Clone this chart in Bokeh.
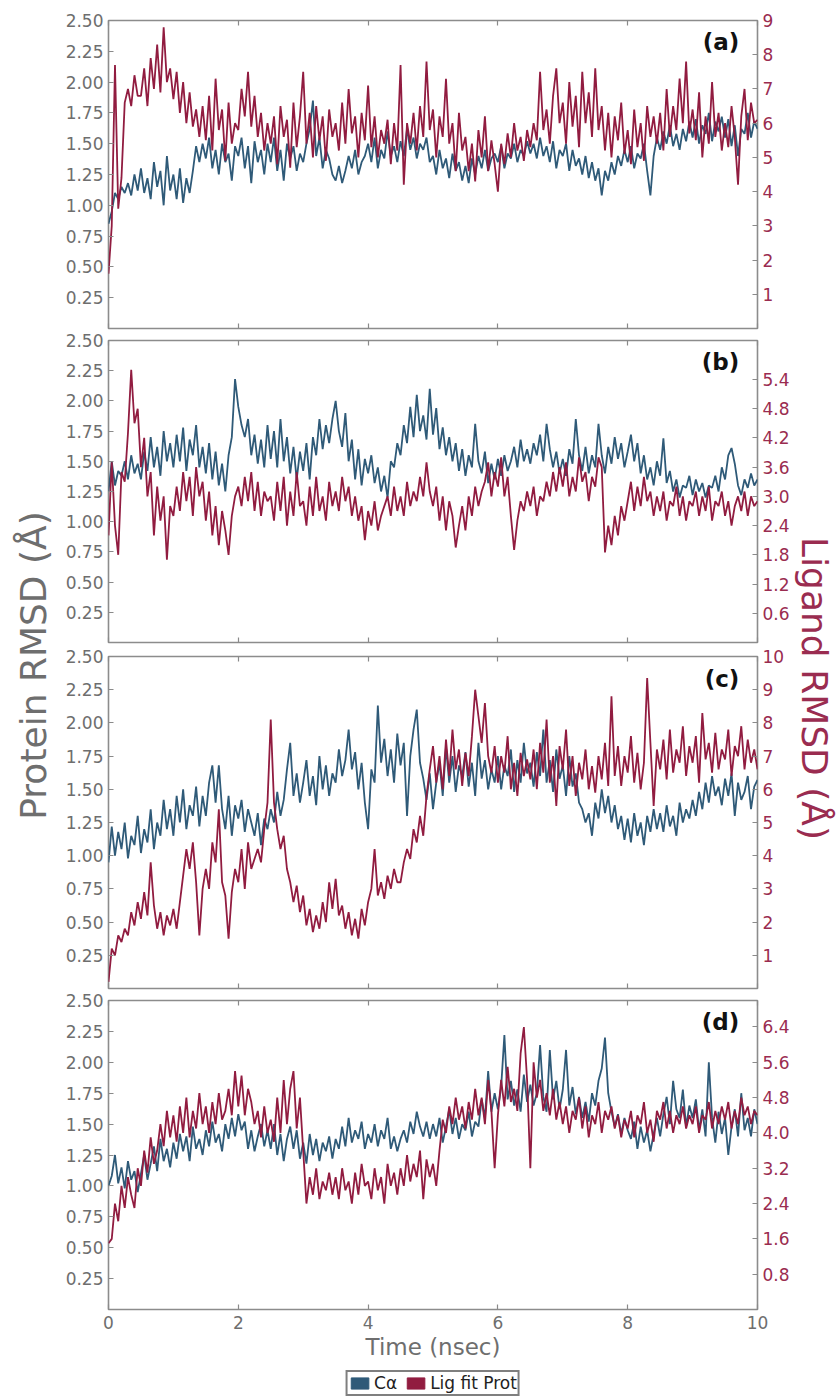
import numpy as np
from math import pi
from bokeh.plotting import figure
from bokeh.models import (Range1d, LinearAxis, FixedTicker, PrintfTickFormatter, Label,
                          Legend, LegendItem, ColumnDataSource)
from bokeh.layouts import row, column
from bokeh.embed import file_html
from bokeh.resources import INLINE

# ---------------- data ----------------
time_ns = np.linspace(0, 10, 201)
time_ticks = [0, 2, 4, 6, 8, 10]
prot_ticks = [0.25, 0.50, 0.75, 1.00, 1.25, 1.50, 1.75, 2.00, 2.25, 2.50]

# panel (a)
ca_a = [0.85, 0.95, 1.10, 1.05, 1.15, 1.10, 1.18, 1.08, 1.25, 1.12,
        1.30, 1.10, 1.22, 1.05, 1.35, 1.15, 1.28, 1.00, 1.40, 1.12,
        1.25, 1.05, 1.30, 1.02, 1.22, 1.10, 1.28, 1.48, 1.35, 1.50,
        1.38, 1.55, 1.30, 1.45, 1.25, 1.50, 1.35, 1.42, 1.20, 1.48,
        1.40, 1.55, 1.30, 1.48, 1.18, 1.52, 1.35, 1.45, 1.25, 1.50,
        1.35, 1.55, 1.28, 1.45, 1.20, 1.50, 1.38, 1.48, 1.28, 1.42,
        1.35, 1.50, 1.62, 1.85, 1.40, 1.55, 1.30, 1.45, 1.38, 1.25,
        1.20, 1.32, 1.18, 1.28, 1.40, 1.30, 1.45, 1.25, 1.35, 1.40,
        1.50, 1.35, 1.55, 1.30, 1.45, 1.38, 1.60, 1.40, 1.48, 1.35,
        1.52, 1.40, 1.62, 1.45, 1.55, 1.38, 1.50, 1.45, 1.55, 1.35,
        1.40, 1.25, 1.45, 1.30, 1.38, 1.22, 1.42, 1.28, 1.35, 1.20,
        1.32, 1.18, 1.38, 1.25, 1.40, 1.30, 1.45, 1.28, 1.38, 1.42,
        1.35, 1.48, 1.30, 1.42, 1.38, 1.50, 1.35, 1.45, 1.40, 1.52,
        1.42, 1.50, 1.38, 1.55, 1.40, 1.48, 1.35, 1.52, 1.30, 1.45,
        1.40, 1.50, 1.28, 1.45, 1.32, 1.38, 1.25, 1.40, 1.22, 1.35,
        1.20, 1.30, 1.08, 1.28, 1.20, 1.35, 1.25, 1.40, 1.32, 1.45,
        1.35, 1.48, 1.30, 1.42, 1.38, 1.50, 1.28, 1.08, 1.40, 1.55,
        1.45, 1.60, 1.50, 1.65, 1.48, 1.58, 1.45, 1.62, 1.52, 1.68,
        1.55, 1.70, 1.50, 1.65, 1.58, 1.75, 1.52, 1.68, 1.60, 1.72,
        1.55, 1.70, 1.48, 1.65, 1.40, 1.62, 1.58, 1.75, 1.55, 1.68,
        1.62]
lig_a = [1.6, 3.0, 7.7, 3.5, 4.4, 6.6, 7.0, 6.5, 7.4, 6.8,
         6.8, 7.6, 6.5, 7.9, 7.0, 8.3, 6.9, 8.8, 7.2, 7.6,
         6.7, 7.5, 6.3, 7.2, 6.0, 6.9, 5.9, 6.4, 5.6, 6.5,
         5.5, 6.8, 5.2, 7.3, 5.8, 6.4, 4.9, 6.6, 5.4, 6.0,
         5.8, 7.0, 6.2, 7.5, 5.9, 6.8, 5.6, 6.3, 5.2, 6.0,
         5.4, 6.2, 4.8, 6.5, 5.6, 6.1, 4.7, 6.6, 5.3, 6.2,
         7.5, 5.4, 6.3, 5.0, 6.5, 5.5, 6.2, 4.9, 6.4, 5.6,
         6.0, 5.2, 6.6, 5.4, 7.0, 5.7, 6.2, 5.0, 6.3, 5.5,
         7.1, 5.3, 6.2, 5.0, 5.8, 5.4, 6.1, 4.8, 6.0, 5.2,
         7.7, 4.2, 6.0, 5.4, 6.3, 5.2, 6.5, 5.6, 7.8, 5.8,
         6.4, 5.0, 6.2, 5.6, 7.3, 5.4, 6.0, 4.6, 6.3, 5.2,
         5.6, 4.6, 5.4, 4.3, 5.8, 5.0, 6.2, 4.6, 5.5, 4.8,
         4.0, 5.4, 4.8, 5.7, 5.0, 6.0, 5.2, 5.6, 4.9, 5.8,
         5.3, 6.0, 5.5, 7.5, 5.8, 6.4, 5.4, 6.8, 7.6, 6.0,
         6.6, 5.4, 7.2, 5.9, 6.8, 5.3, 7.5, 6.0, 6.9, 5.6,
         7.6, 5.8, 6.5, 5.2, 6.3, 5.0, 6.2, 5.5, 6.6, 5.1,
         5.8, 4.8, 6.4, 5.3, 6.0, 4.9, 6.5, 5.6, 6.2, 5.4,
         6.3, 5.2, 7.0, 5.6, 6.5, 5.8, 7.3, 6.0, 7.8, 5.7,
         6.4, 5.5, 6.9, 5.0, 6.2, 5.4, 7.2, 5.6, 6.3, 5.2,
         6.0, 5.3, 6.5, 5.6, 4.2, 6.2, 7.0, 5.5, 6.6, 6.0,
         6.1]
lig_ticks_a = [1, 2, 3, 4, 5, 6, 7, 8, 9]

# panel (b)
ca_b = [1.25, 1.50, 1.30, 1.42, 1.38, 1.50, 1.35, 1.55, 1.40, 1.48,
        1.35, 1.58, 1.42, 1.70, 1.45, 1.62, 1.38, 1.75, 1.50, 1.65,
        1.45, 1.72, 1.50, 1.78, 1.42, 1.68, 1.55, 1.80, 1.45, 1.62,
        1.40, 1.65, 1.35, 1.58, 1.30, 1.48, 1.25, 1.55, 1.70, 2.18,
        1.95, 1.80, 1.70, 1.85, 1.55, 1.72, 1.48, 1.68, 1.45, 1.80,
        1.52, 1.75, 1.45, 1.85, 1.50, 1.70, 1.40, 1.62, 1.35, 1.58,
        1.42, 1.65, 1.35, 1.70, 1.55, 1.85, 1.60, 1.80, 1.65, 1.85,
        2.00, 1.75, 1.62, 1.90, 1.50, 1.68, 1.35, 1.60, 1.30, 1.52,
        1.40, 1.55, 1.32, 1.45, 1.25, 1.38, 1.20, 1.50, 1.45, 1.65,
        1.55, 1.80, 1.65, 1.95, 1.70, 2.05, 1.75, 1.88, 1.68, 2.10,
        1.72, 1.94, 1.60, 1.78, 1.55, 1.70, 1.50, 1.65, 1.42, 1.60,
        1.38, 1.55, 1.45, 1.81, 1.50, 1.40, 1.58, 1.32, 1.48, 1.35,
        1.52, 1.38, 1.55, 1.42, 1.50, 1.62, 1.45, 1.68, 1.50, 1.60,
        1.48, 1.65, 1.55, 1.72, 1.50, 1.81, 1.60, 1.45, 1.58, 1.40,
        1.52, 1.38, 1.60, 1.48, 1.85, 1.55, 1.42, 1.62, 1.40, 1.55,
        1.45, 1.81, 1.55, 1.40, 1.62, 1.48, 1.70, 1.52, 1.65, 1.45,
        1.58, 1.72, 1.50, 1.65, 1.40, 1.55, 1.35, 1.45, 1.30, 1.50,
        1.38, 1.69, 1.32, 1.42, 1.25, 1.35, 1.20, 1.30, 1.28, 1.38,
        1.22, 1.35, 1.25, 1.32, 1.20, 1.30, 1.28, 1.38, 1.25, 1.45,
        1.35, 1.55, 1.61, 1.48, 1.30, 1.22, 1.35, 1.28, 1.40, 1.30,
        1.35]
lig_b = [2.2, 3.7, 2.4, 1.8, 3.5, 3.3, 4.3, 5.6, 4.5, 4.8,
         3.6, 4.2, 3.0, 3.5, 2.2, 3.2, 2.5, 3.0, 1.7, 2.8,
         2.6, 3.2, 2.7, 3.5, 2.9, 3.4, 2.6, 3.6, 3.0, 3.3,
         2.5, 3.1, 2.2, 2.8, 2.0, 2.7, 2.3, 1.8, 2.6, 3.0,
         3.2, 2.8, 3.4, 2.9, 3.5, 2.7, 3.3, 2.6, 3.1, 2.9,
         3.0, 2.5, 3.3, 2.7, 3.4, 2.4, 3.1, 2.6, 3.5, 2.8,
         2.9, 2.4, 3.2, 2.6, 3.4, 2.7, 3.0, 2.5, 3.3, 2.8,
         3.1, 2.7, 3.4, 2.9, 3.2, 2.6, 3.0, 2.5, 2.8, 2.1,
         2.7, 2.4, 2.9, 2.3, 2.6, 2.8, 3.0, 2.6, 3.2, 2.7,
         3.0, 2.6, 3.3, 2.8, 3.1, 2.9, 3.4, 3.0, 3.7, 3.1,
         2.8, 3.2, 2.5, 3.0, 2.3, 2.9, 2.6, 1.95, 2.4, 2.8,
         2.3, 3.0, 2.6, 3.2, 2.8, 3.1, 3.3, 3.7, 3.0, 3.5,
         3.2, 3.8, 3.0, 3.4, 2.6, 1.9, 2.5, 2.9, 2.7, 3.1,
         2.8, 3.2, 2.6, 3.0, 2.9, 3.3, 3.0, 3.5, 3.1, 3.6,
         3.2, 3.7, 3.0, 3.4, 3.1, 3.8, 3.3, 3.5, 2.9, 3.4,
         3.2, 3.8, 3.6, 1.85, 2.4, 2.0, 2.6, 2.2, 2.8, 2.5,
         2.9, 3.3, 2.7, 3.2, 2.8, 3.4, 2.9, 3.1, 2.6, 3.0,
         2.7, 3.1, 2.5, 2.9, 2.8, 3.2, 2.6, 3.0, 2.5, 2.9,
         2.8, 3.1, 2.6, 3.0, 2.7, 3.2, 2.5, 2.9, 2.8, 3.1,
         2.6, 2.9, 2.4, 2.8, 3.0, 2.7, 3.1, 2.6, 3.0, 2.8,
         2.9]
lig_ticks_b = [0.6, 1.2, 1.8, 2.4, 3.0, 3.6, 4.2, 4.8, 5.4]

# panel (c)
ca_c = [0.95, 1.22, 1.00, 1.18, 1.05, 1.25, 0.98, 1.15, 1.08, 1.30,
        1.02, 1.20, 1.10, 1.35, 1.05, 1.25, 1.15, 1.42, 1.20, 1.35,
        1.15, 1.45, 1.25, 1.50, 1.20, 1.38, 1.30, 1.52, 1.22, 1.45,
        1.30, 1.55, 1.68, 1.40, 1.68, 1.35, 1.20, 1.45, 1.15, 1.38,
        1.28, 1.42, 1.18, 1.35, 1.25, 1.15, 1.32, 1.08, 1.28, 1.20,
        1.35, 1.25, 1.48, 1.30, 1.42, 1.65, 1.85, 1.45, 1.62, 1.40,
        1.55, 1.72, 1.45, 1.60, 1.38, 1.75, 1.50, 1.68, 1.45, 1.62,
        1.55, 1.80, 1.60, 1.72, 1.95, 1.65, 1.78, 1.50, 1.70, 1.40,
        1.20, 1.65, 1.55, 2.13, 1.70, 1.88, 1.60, 1.80, 1.55, 1.92,
        1.68, 1.85, 1.30, 1.75, 1.95, 2.10, 1.70, 1.58, 1.42, 1.62,
        1.35, 1.55, 1.70, 1.45, 1.82, 1.55, 1.75, 1.48, 1.68, 1.60,
        1.78, 1.52, 1.70, 1.45, 1.85, 1.58, 1.72, 1.50, 1.65, 1.55,
        1.75, 1.50, 1.68, 1.60, 1.80, 1.48, 1.72, 1.55, 1.85, 1.62,
        1.70, 1.52, 1.78, 1.60, 1.95, 1.55, 1.72, 1.48, 1.80, 1.58,
        1.68, 1.45, 1.75, 1.52, 1.62, 1.40, 1.35, 1.25, 1.32, 1.15,
        1.40, 1.28, 1.50, 1.32, 1.45, 1.25, 1.38, 1.20, 1.30, 1.12,
        1.28, 1.10, 1.32, 1.15, 1.25, 1.08, 1.30, 1.18, 1.35, 1.20,
        1.32, 1.18, 1.38, 1.22, 1.30, 1.15, 1.40, 1.25, 1.35, 1.28,
        1.42, 1.30, 1.48, 1.35, 1.55, 1.40, 1.60, 1.45, 1.52, 1.38,
        1.58, 1.45, 1.62, 1.30, 1.55, 1.42, 1.48, 1.60, 1.35, 1.52,
        1.57]
lig_c = [0.2, 1.2, 1.0, 1.6, 1.4, 1.8, 1.6, 2.3, 1.9, 2.6,
         2.1, 2.9, 2.2, 3.8, 2.5, 1.8, 2.3, 1.6, 2.2, 1.9,
         2.4, 1.8, 2.6, 3.4, 4.2, 3.6, 4.4, 3.2, 1.6, 3.0,
         3.6, 3.0, 4.4, 3.8, 5.4, 3.2, 2.8, 1.5, 2.9, 3.6,
         3.2, 4.2, 3.0, 4.4, 3.6, 3.9, 4.2, 3.8, 4.8, 5.6,
         8.1, 5.6, 4.8, 4.2, 4.6, 3.6, 3.2, 2.6, 3.1, 2.3,
         2.8, 1.9, 2.4, 1.7, 2.2, 1.8, 2.6, 2.0, 3.2, 2.4,
         3.3, 2.2, 2.5, 1.8, 2.3, 1.6, 2.1, 1.5, 2.4, 1.9,
         2.6, 3.0, 4.2, 2.8, 3.2, 2.7, 3.4, 3.0, 3.6, 3.2,
         3.2, 3.8, 4.2, 3.9, 4.8, 4.4, 5.2, 4.6, 5.8, 6.6,
         7.3, 6.2, 7.0, 6.0, 7.5, 6.4, 7.8, 6.6, 7.2, 6.1,
         7.1, 6.4, 7.6, 9.0, 8.2, 7.4, 8.6, 7.0, 6.5, 7.3,
         6.2, 7.0, 6.5, 7.6, 6.0, 6.8, 5.8, 7.1, 6.4, 6.9,
         6.3, 7.2, 6.0, 7.4, 6.5, 8.1, 6.2, 7.0, 5.5, 7.3,
         6.6, 7.8, 6.1, 7.0, 5.8, 6.8, 6.3, 7.2, 6.0, 6.7,
         5.9, 7.0, 6.3, 7.4, 6.1, 8.8, 6.4, 7.3, 6.1, 7.0,
         6.5, 7.6, 6.2, 7.1, 6.0, 6.8, 9.35, 7.4, 5.5, 7.2,
         6.6, 7.5, 6.3, 7.8, 6.5, 7.2, 6.8, 7.9, 6.4, 7.3,
         6.8, 7.6, 6.2, 8.3, 6.9, 7.4, 6.5, 7.7, 6.6, 7.2,
         6.9, 7.8, 6.4, 7.3, 7.0, 7.9, 6.6, 7.5, 6.8, 7.2,
         6.6]
lig_ticks_c = [1, 2, 3, 4, 5, 6, 7, 8, 9, 10]

# panel (d)
ca_d = [1.00, 1.08, 1.25, 1.02, 1.15, 0.98, 1.20, 1.05, 1.12, 0.95,
        1.10, 1.25, 1.05, 1.18, 1.32, 1.12, 1.38, 1.20, 1.30, 1.15,
        1.35, 1.22, 1.42, 1.28, 1.40, 1.20, 1.48, 1.30, 1.38, 1.25,
        1.45, 1.32, 1.52, 1.35, 1.42, 1.28, 1.50, 1.38, 1.55, 1.40,
        1.58, 1.45, 1.52, 1.30, 1.45, 1.28, 1.40, 1.50, 1.32, 1.45,
        1.30, 1.50, 1.25, 1.42, 1.20, 1.38, 1.48, 1.30, 1.45, 1.22,
        1.35, 1.18, 1.42, 1.25, 1.38, 1.20, 1.35, 1.28, 1.40, 1.22,
        1.38, 1.30, 1.48, 1.32, 1.55, 1.35, 1.45, 1.38, 1.52, 1.30,
        1.42, 1.35, 1.50, 1.32, 1.45, 1.38, 1.55, 1.30, 1.40, 1.28,
        1.38, 1.45, 1.35, 1.52, 1.42, 1.60, 1.48, 1.40, 1.52, 1.38,
        1.50, 1.40, 1.55, 1.35, 1.48, 1.62, 1.42, 1.55, 1.38, 1.50,
        1.45, 1.60, 1.40, 1.52, 1.48, 1.70, 1.55, 1.93, 1.60, 1.75,
        1.62, 1.80, 2.22, 1.70, 1.85, 1.65, 1.78, 1.60, 1.90, 1.68,
        1.82, 1.65, 1.75, 2.14, 1.72, 1.60, 2.10, 1.70, 1.85, 1.62,
        1.78, 2.10, 1.65, 1.80, 1.58, 1.72, 1.55, 1.68, 1.52, 1.75,
        1.65, 1.85, 1.95, 2.20, 1.75, 1.60, 1.48, 1.58, 1.42, 1.55,
        1.45, 1.38, 1.52, 1.30, 1.48, 1.35, 1.45, 1.28, 1.42, 1.55,
        1.40, 1.58, 1.72, 1.50, 1.85, 1.62, 1.55, 1.78, 1.48, 1.65,
        1.55, 1.70, 1.45, 1.62, 1.40, 2.00, 1.55, 1.35, 1.60, 1.42,
        1.55, 1.25, 1.48, 1.62, 1.40, 1.75, 1.45, 1.55, 1.40, 1.62,
        1.50]
lig_d = [1.5, 1.6, 2.4, 2.0, 2.8, 2.3, 3.0, 2.6, 2.3, 3.2,
         2.8, 3.6, 3.1, 3.9, 3.3, 3.6, 4.2, 3.7, 4.5, 3.9,
         4.4, 3.8, 4.6, 4.0, 4.8, 3.9, 4.5, 4.1, 4.9, 4.2,
         4.6, 4.0, 4.7, 4.2, 4.9, 4.3, 4.5, 5.0, 4.4, 5.4,
         4.6, 5.3, 4.4, 5.0, 4.7, 4.2, 4.5, 3.9, 4.6, 4.0,
         4.3, 3.8, 4.8, 4.0, 5.2, 4.2, 5.0, 5.4, 4.1, 4.8,
         3.6, 2.4, 3.0, 2.6, 3.2, 2.5, 2.9, 2.7, 3.1, 2.6,
         3.0, 2.5, 3.2, 2.7, 2.9, 2.4, 3.1, 2.6, 3.3, 2.8,
         2.9, 2.5, 3.2, 2.7, 3.0, 2.4, 3.3, 2.8, 3.1, 2.6,
         3.2, 2.8, 3.5, 2.9, 3.3, 3.0, 3.6, 2.5, 3.4, 3.0,
         3.3, 2.8, 3.6, 4.3, 4.0, 4.6, 4.2, 4.8, 4.3, 4.6,
         4.1, 4.7, 4.3, 5.0, 4.4, 4.8, 4.2, 5.2, 4.5, 3.2,
         4.4, 5.2, 4.6, 5.5, 4.7, 5.0, 4.5, 5.8, 6.4, 5.2,
         3.2, 5.6, 4.8, 5.2, 4.5, 4.9, 4.4, 5.0, 4.3, 4.7,
         4.2, 4.6, 4.0, 4.5, 4.3, 4.8, 4.1, 4.6, 3.9, 4.4,
         4.2, 4.7, 4.0, 4.5, 4.3, 4.6, 4.1, 4.4, 3.9, 4.3,
         4.1, 4.5, 3.9, 4.4, 4.2, 4.7, 4.0, 4.3, 3.8, 4.5,
         4.3, 4.7, 4.1, 4.5, 4.0, 4.4, 4.2, 4.6, 4.1, 4.4,
         4.2, 4.6, 4.0, 4.4, 4.3, 4.7, 4.1, 4.5, 4.2, 4.6,
         4.3, 4.7, 4.1, 4.5, 4.2, 4.8, 4.4, 4.6, 4.2, 4.5,
         4.4]
lig_ticks_d = [0.8, 1.6, 2.4, 3.2, 4.0, 4.8, 5.6, 6.4]

panel_tags = ["(a)", "(b)", "(c)", "(d)"]
lig_max = [9.0, 6.2, 10.0, 7.0]
legend_labels = ["C\u03b1", "Lig fit Prot"]

# ---------------- style ----------------
FONT = "DejaVu Sans"
GREY = "#6e6e6e"
TICK = "#8a8a8a"
BLUE = "#2f5a78"
RED = "#911c40"
RED_TXT = "#9a2c50"
LINE_W = 1.8

LW, RW = 56, 46
PW = 838 - LW - RW
FRAME_W = 651
BL = 108 - LW
BR = PW - BL - FRAME_W


def style_axis(ax, color, show=True, size="17px"):
    ax.axis_line_color = None
    ax.major_tick_line_color = TICK
    ax.major_tick_line_width = 1.2
    ax.major_tick_in = 5
    ax.major_tick_out = 0
    ax.minor_tick_line_color = None
    ax.major_label_text_font = FONT
    ax.major_label_text_color = color
    if show:
        ax.major_label_text_font_size = size
        ax.major_label_standoff = 5
    else:
        # tick marks only: labels are not painted and take (almost) no room
        ax.major_label_text_font_size = "1px"
        ax.major_label_text_alpha = 0
        ax.major_label_standoff = 0


def panel(tag, ca, lig, lmax, lticks, lfmt, frame_h, top, bottom, last=False):
    p = figure(width=PW, height=top + frame_h + bottom,
               x_range=Range1d(0, 10), y_range=Range1d(0, 2.5),
               output_backend="svg", toolbar_location=None,
               x_axis_location=None, y_axis_location=None,
               min_border_left=BL, min_border_right=BR,
               min_border_top=top, min_border_bottom=bottom)
    p.extra_y_ranges = {"lig": Range1d(0, lmax)}
    p.grid.visible = False
    p.outline_line_color = "#8c8c8c"
    p.outline_line_width = 1.6
    p.background_fill_color = "white"
    p.border_fill_color = "white"

    left = LinearAxis(ticker=FixedTicker(ticks=prot_ticks),
                      formatter=PrintfTickFormatter(format="%.2f"))
    style_axis(left, GREY)
    p.add_layout(left, "left")

    right = LinearAxis(y_range_name="lig", ticker=FixedTicker(ticks=lticks),
                       formatter=PrintfTickFormatter(format=lfmt))
    style_axis(right, RED_TXT)
    p.add_layout(right, "right")

    above = LinearAxis(ticker=FixedTicker(ticks=time_ticks))
    style_axis(above, GREY, show=False)
    p.add_layout(above, "above")

    below = LinearAxis(ticker=FixedTicker(ticks=time_ticks),
                       formatter=PrintfTickFormatter(format="%d"))
    if last:
        style_axis(below, GREY, show=True, size="17px")
        below.major_label_standoff = 6
        below.axis_label = "Time (nsec)"
        below.axis_label_text_font = FONT
        below.axis_label_text_font_size = "23px"
        below.axis_label_text_font_style = "normal"
        below.axis_label_text_color = GREY
        below.axis_label_standoff = 2
    else:
        style_axis(below, GREY, show=False)
    p.add_layout(below, "below")

    p.line(time_ns, ca, line_color=BLUE, line_width=LINE_W)
    p.line(time_ns, lig, line_color=RED, line_width=LINE_W, y_range_name="lig")

    p.add_layout(Label(x=9.72, y=2.43, text=tag, text_align="right", text_baseline="top",
                       text_font=FONT, text_font_style="bold", text_font_size="23px",
                       text_color="#111111"))
    return p


pa = panel(panel_tags[0], ca_a, lig_a, lig_max[0], lig_ticks_a, "%d", 308, 20, 3)
pb = panel(panel_tags[1], ca_b, lig_b, lig_max[1], lig_ticks_b, "%.1f", 302, 9, 5)
pc = panel(panel_tags[2], ca_c, lig_c, lig_max[2], lig_ticks_c, "%d", 332, 9, 3)
pd_ = panel(panel_tags[3], ca_d, lig_d, lig_max[3], lig_ticks_d, "%.1f", 309, 9, 56, last=True)

# legend strip (swatches use a placeholder source holding no drawable value)
lg = figure(width=PW, height=32, x_range=Range1d(0, 1), y_range=Range1d(0, 1),
            output_backend="svg", toolbar_location=None,
            x_axis_location=None, y_axis_location=None,
            min_border_left=BL, min_border_right=BR, min_border_top=0, min_border_bottom=0)
lg.grid.visible = False
lg.outline_line_color = None
swatch = ColumnDataSource(data=dict(l=[np.nan], r=[np.nan], t=[np.nan], b=[np.nan]))
q1 = lg.quad(left="l", right="r", top="t", bottom="b", source=swatch,
             fill_color=BLUE, line_color=BLUE)
q2 = lg.quad(left="l", right="r", top="t", bottom="b", source=swatch,
             fill_color=RED, line_color=RED)
legend = Legend(items=[LegendItem(label=legend_labels[0], renderers=[q1]),
                       LegendItem(label=legend_labels[1], renderers=[q2])],
                orientation="horizontal", location="top_center")
legend.label_text_font = FONT
legend.label_text_font_size = "17px"
legend.label_text_color = "#222222"
legend.glyph_width = 22
legend.glyph_height = 14
legend.label_height = 14
legend.label_standoff = 4
legend.spacing = 7
legend.padding = 1
legend.margin = 5
legend.border_line_color = "black"
legend.border_line_width = 2
legend.background_fill_color = "white"
lg.add_layout(legend)


def label_fig(width, text, x, y, angle, color, size):
    f = figure(width=width, height=1397, x_range=Range1d(0, width), y_range=Range1d(0, 1397),
               output_backend="svg", toolbar_location=None,
               x_axis_location=None, y_axis_location=None, min_border=0)
    f.grid.visible = False
    f.outline_line_color = None
    f.add_layout(Label(x=x, y=y, text=text, angle=angle, text_align="center",
                       text_baseline="middle", text_font=FONT, text_font_size=size,
                       text_color=color))
    return f


lf = label_fig(LW, "Protein RMSD (\u00c5)", 33, 1397 - 665, pi / 2, GREY, "36px")
rf = label_fig(RW, "Ligand RMSD (\u00c5)", 22, 1397 - 688, -pi / 2, RED_TXT, "36px")

layout = row(lf, column(pa, pb, pc, pd_, lg), rf)

with open("out.html", "w") as fh:
    fh.write(file_html(layout, INLINE))
